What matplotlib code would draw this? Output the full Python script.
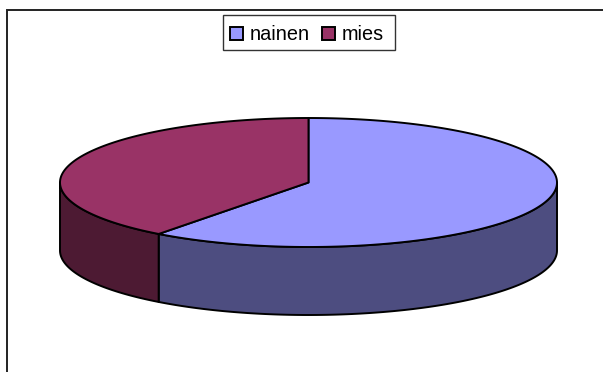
import numpy as np
import matplotlib
matplotlib.use('Agg')
from matplotlib import pyplot as plt
from matplotlib.patches import Patch, Rectangle

plt.rcParams['font.family'] = ['Liberation Sans', 'DejaVu Sans']

# Pie data
labels = ['nainen', 'mies']
values = [60.3, 39.7]
top_colors = ['#9999FF', '#993366']
side_colors = ['#4D4D80', '#4D1A33']

# Pie shape on the pixel grid
cx, cy = 308.5, 182.5
rx, ry = 248.5, 64.5
depth = 68


def rim(start, stop):
    # clockwise from 12 o'clock, angles in degrees
    t = np.radians(np.linspace(start, stop, 200))
    return cx + rx * np.sin(t), cy - ry * np.cos(t)


fig = plt.figure(figsize=(6.03, 3.72), dpi=100)
ax = fig.add_axes([0, 0, 1, 1])
ax.set_xlim(0, 603)
ax.set_ylim(372, 0)
ax.axis('off')

# Chart frame, only the top and left edges show
ax.plot([603, 7, 7], [9.5, 9.5, 372], color='#222222', lw=1.4, solid_joinstyle='miter')

shares = np.array(values) / sum(values) * 360
starts = np.concatenate([[0], np.cumsum(shares)[:-1]])

# Side wall first, only the front half of the rim (90..270) is visible
for start, share, color in zip(starts, shares, side_colors):
    a = max(start, 90)
    b = min(start + share, 270)
    if b > a:
        x, y = rim(a, b)
        ax.fill(np.r_[x, x[::-1]], np.r_[y, y[::-1] + depth],
                facecolor=color, edgecolor='black', lw=1.4, joinstyle='round')

# Top face
for start, share, color in zip(starts, shares, top_colors):
    x, y = rim(start, start + share)
    ax.fill(np.r_[cx, x], np.r_[cy, y], facecolor=color, edgecolor='black',
            lw=1.4, joinstyle='round')

# Legend box is wider than the entries, so it is drawn separately
ax.add_patch(Rectangle((223, 15), 172, 35, facecolor='white', edgecolor='#333333', lw=1.0))
handles = [Patch(facecolor=c, edgecolor='black', lw=1.4) for c in top_colors]
ax.legend(handles, labels, ncol=2, loc='upper left', bbox_to_anchor=(223, 18.5),
          bbox_transform=ax.transData, fontsize=14.3, frameon=False,
          borderpad=0.35, borderaxespad=0, handlelength=0.66,
          handleheight=0.66, handletextpad=0.33, columnspacing=0.6, labelspacing=0)

fig.savefig('out.png', dpi=100)
